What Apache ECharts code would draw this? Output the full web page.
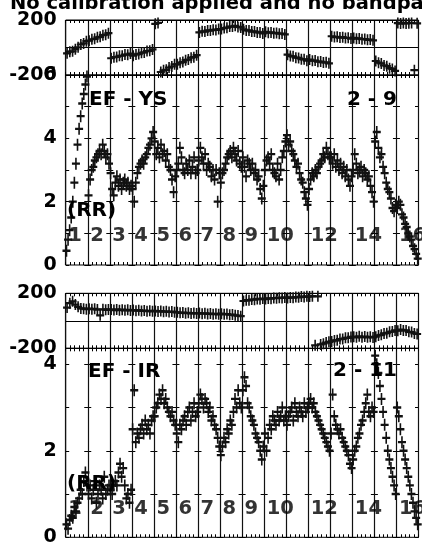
<!DOCTYPE html>
<html><head><meta charset="utf-8">
<script src="https://cdn.jsdelivr.net/npm/echarts@6/dist/echarts.min.js"></script>
<style>html,body{margin:0;padding:0;background:#fff}#c{width:422px;height:552px}</style>
</head><body><div id="c"></div>
<script>
// ---------- text ----------
const TITLE = 'No calibration applied and no bandpass';
const PANEL1_BASELINE = 'EF - YS';
const PANEL1_ANTENNAS = '2 - 9';
const PANEL2_BASELINE = 'EF - IR';
const PANEL2_ANTENNAS = '2 - 11';
const STOKES = '(RR)';
const IF_LABELS = ['1','2','3','4','5','6','7','8','9','10','','12','','14','','16'];
const PHASE_TICK_LABELS = [-200, 200];
const AMP1_TICK_LABELS = [0, 2, 4, 6];
const AMP2_TICK_LABELS = [0, 2, 4];

// ---------- data: one list per IF (channels in order) ----------
const PHASE_YS = [
  [-42,-30,-28,-12,2,22,30,46],
  [50,60,63,74,78,90,93,104],
  [-78,-70,-69,-60,-60,-51,-52,-44],
  [-60,-50,-48,-38,-36,-26,-24,-14],
  [172,179,-178,-166,-162,-146,-138,-122],
  [-122,-110,-106,-92,-88,-74,-70,-56],
  [110,118,116,124,123,129,128,134],
  [134,142,144,152,152,158,150,146],
  [132,124,124,116,117,110,110,102],
  [114,108,110,104,106,100,102,95],
  [-52,-62,-64,-74,-76,-85,-86,-96],
  [-88,-96,-95,-103,-102,-109,-108,-115],
  [82,76,78,72,75,69,71,65],
  [70,64,66,60,62,56,58,52],
  [-98,-110,-116,-130,-136,-150,-156,-170],
  [178,174,179,175,177,179,-165,176]
];
const AMP_YS = [
  [0.45,0.8,1.1,1.5,2.0,2.6,3.2,3.8,4.3,4.7,5.1,5.4,5.7,5.95],
  [2.2,2.7,3.0,3.1,3.3,3.4,3.5,3.6,3.5,3.8,3.6,3.4,3.5,3.2],
  [2.9,2.4,2.2,2.6,2.8,2.5,2.7,2.4,2.6,2.7,2.5,2.6,2.4,2.5],
  [2.4,2.0,2.6,2.9,3.1,3.2,3.3,3.2,3.4,3.5,3.7,3.8,4.0,4.2],
  [3.9,3.5,3.7,3.4,3.8,3.5,3.6,3.3,3.5,3.1,3.0,2.7,2.3,2.8],
  [3.0,3.2,3.7,3.4,3.0,2.9,3.2,3.0,3.3,2.9,3.1,3.4,2.9,3.0],
  [3.3,3.7,3.4,3.2,3.5,3.0,3.2,3.1,2.8,3.0,2.7,3.0,2.0,2.9],
  [2.6,2.9,3.0,3.2,3.4,3.5,3.6,3.4,3.7,3.5,3.3,3.6,3.2,3.1],
  [3.4,3.1,2.8,3.3,3.2,3.0,3.2,2.9,3.0,2.7,2.8,2.4,2.1,2.5],
  [3.0,3.3,3.4,3.2,3.5,3.0,2.9,2.8,3.2,2.7,3.0,3.4,3.6,3.9],
  [4.1,3.8,3.9,3.6,3.5,3.3,3.1,3.2,2.9,2.7,2.6,2.3,2.1,1.9],
  [2.4,2.7,2.9,2.8,3.0,2.9,3.1,3.2,3.3,3.5,3.4,3.7,3.5,3.4],
  [3.4,3.2,3.5,3.1,3.3,3.0,3.2,2.9,3.1,2.8,3.0,2.7,2.5,2.8],
  [3.0,3.5,3.2,2.9,3.0,3.1,2.8,3.0,2.9,2.7,2.8,2.5,2.3,2.0],
  [3.9,4.2,3.7,3.4,3.5,3.1,2.9,2.6,2.4,2.3,2.1,1.8,1.7,1.9],
  [1.8,2.0,1.9,1.6,1.5,1.3,1.2,1.0,0.9,0.8,0.6,0.5,0.35,0.2]
];
const PHASE_IR = [
  [96,128,142,118,102,90,88,84],
  [88,84,87,82,40,84,80,83],
  [82,78,83,77,81,76,80,75],
  [78,74,77,72,75,70,73,69],
  [72,68,71,66,69,64,67,63],
  [62,58,60,55,58,54,56,53],
  [56,52,55,50,53,48,51,47],
  [52,48,49,44,45,40,38,34],
  [144,150,149,155,154,159,157,162],
  [158,163,161,166,164,168,166,170],
  [166,170,168,173,171,176,174,178],
  [176,179,-178,178,-172,-166,-158,-153],
  [-150,-143,-142,-133,-132,-124,-124,-117],
  [-116,-120,-113,-119,-115,-120,-116,-121],
  [-116,-106,-102,-92,-90,-80,-78,-70],
  [-72,-64,-70,-70,-80,-82,-92,-96]
];
const AMP_IR = [
  [0.3,0.2,0.4,0.5,0.45,0.7,0.6,0.8,0.9,1.1,1.0,1.3,1.5,1.2],
  [1.0,1.2,0.9,1.1,1.3,0.8,1.0,1.2,1.1,0.9,1.4,1.0,1.1,1.2],
  [1.1,1.0,1.2,1.3,1.2,1.5,1.7,1.4,1.6,1.2,0.9,1.0,0.8,1.1],
  [2.5,3.4,2.2,2.4,2.3,2.5,2.6,2.4,2.7,2.5,2.6,2.4,2.7,2.8],
  [2.8,3.0,3.1,3.3,3.2,3.4,3.1,3.2,3.0,2.9,2.8,2.9,2.7,2.6],
  [2.4,2.2,2.6,2.5,2.7,2.8,2.6,2.9,3.0,2.7,2.9,3.1,2.8,2.9],
  [3.1,3.3,3.2,3.0,3.2,3.1,2.9,3.0,2.7,2.8,2.6,2.5,2.3,2.1],
  [1.9,2.1,2.3,2.2,2.5,2.4,2.7,2.6,2.9,3.2,3.0,3.4,3.1,3.0],
  [3.4,3.7,3.5,3.1,3.0,2.8,2.7,2.6,2.4,2.3,2.2,2.0,1.8,2.1],
  [2.4,2.0,2.3,2.6,2.5,2.8,2.7,2.6,2.9,2.7,2.8,3.0,2.7,2.8],
  [2.6,2.8,2.9,3.0,2.7,3.1,2.9,2.8,3.0,2.9,2.8,3.1,2.9,3.0],
  [3.1,3.2,3.0,3.1,2.9,2.8,2.7,2.6,2.5,2.4,2.3,2.2,2.1,2.0],
  [2.4,3.3,2.8,2.6,2.5,2.4,2.5,2.3,2.2,2.1,2.0,1.9,1.7,1.6],
  [1.8,2.0,2.1,2.3,2.4,2.6,2.7,2.9,3.1,3.3,2.9,2.8,3.0,2.9],
  [4.2,4.0,3.8,3.5,3.2,2.9,2.6,2.3,2.0,1.8,1.6,1.4,1.2,1.0],
  [3.0,2.8,2.5,2.2,2.0,1.8,1.6,1.4,1.2,1.0,0.8,0.6,0.45,0.3]
];

// ---------- build ----------
const N_IF = IF_LABELS.length;
function toPoints(perIF){
  const out = [];
  perIF.forEach((vals, i) => {
    const n = vals.length;
    vals.forEach((v, k) => out.push([i + (k + 0.5) / n, v]));
  });
  return out;
}
const FONT = '"DejaVu Sans", sans-serif';
const PLUS = 'path://M0,4H10V6H0Z M4,0H6V10H4Z';
const L = 65.7, W = 352.8;
const grids = [
  {left:L, top:20,    width:W, height:55},
  {left:L, top:75,    width:W, height:190},
  {left:L, top:293.3, width:W, height:55},
  {left:L, top:348.3, width:W, height:189}
].map(g => Object.assign(g, {show:true, borderColor:'#000', borderWidth:1, backgroundColor:'transparent'}));

const xAxis = [];
grids.forEach((g, gi) => {
  const base = {gridIndex:gi, type:'value', min:0, max:N_IF, interval:1,
    axisLine:{show:false, onZero:false}, axisLabel:{show:false},
    axisTick:{show:true, inside:true, length:3, lineStyle:{color:'#000', width:1}},
    minorTick:{show:true, splitNumber:5, length:3, lineStyle:{color:'#000', width:1}}};
  xAxis.push(Object.assign({}, base, {position:'bottom', splitLine:{show:true, lineStyle:{color:'#111', width:1.2}}}));
  xAxis.push(Object.assign({}, base, {position:'top', splitLine:{show:false}}));
});

const lbl = (allowed, pad) => ({show:true, color:'#000', fontFamily:FONT, fontWeight:'bold', fontSize:19, margin:9,
  padding: pad, showMaxLabel: true, showMinLabel: true,
  formatter: v => allowed.indexOf(Math.round(v*1000)/1000) >= 0 ? String(v) : ''});
const phaseY = gi => ({gridIndex:gi, type:'value', min:-200, max:200, interval:200,
  axisLine:{show:false}, axisTick:{show:false},
  axisLabel: lbl(PHASE_TICK_LABELS, [0,0,0,0]),
  splitLine:{show:true, lineStyle:{color:'#000', width:1}}});
const ampY = (gi, max, ticks) => ({gridIndex:gi, type:'value', min:0, max:max, interval:1,
  axisLine:{show:false}, axisTick:{show:false},
  axisLabel: lbl(ticks, [4,0,0,0]),
  splitLine:{show:true, lineStyle:{color:'#000', width:1, type:[7, W/N_IF - 7], dashOffset:3.5}}});
const yAxis = [phaseY(0), ampY(1, 6, AMP1_TICK_LABELS), phaseY(2), ampY(3, 4.37, AMP2_TICK_LABELS)];

const dataSeries = (xi, yi, pts, size) => ({type:'scatter', xAxisIndex:xi, yAxisIndex:yi, data:pts,
  symbol:PLUS, symbolSize:size, itemStyle:{color:'#111', opacity:1}, z:5, silent:true, clip:true});
const labelSeries = (xi, yi, yv) => ({type:'scatter', xAxisIndex:xi, yAxisIndex:yi, z:2, silent:true,
  data: IF_LABELS.map((t, i) => [i, yv, t]).filter(d => d[2] !== ''),
  symbol:'circle', symbolSize:1, itemStyle:{color:'transparent'},
  label:{show:true, position:'right', distance:2, formatter:p => p.data[2],
    color:'#000', fontFamily:FONT, fontWeight:'bold', fontSize:19.5}});

const txt = (text, pos, cy) => Object.assign({text, padding:0, top: cy - 10,
  textStyle:{color:'#000', fontFamily:FONT, fontWeight:'bold', fontSize:20, lineHeight:20}}, pos);

const option = {
  animation:false,
  backgroundColor:'#fff',
  title:[
    {text:TITLE, left:10, top:-6.5, padding:0, textStyle:{color:'#000', fontFamily:FONT, fontWeight:'bold', fontSize:19.5, lineHeight:20}},
    txt(PANEL1_BASELINE, {left:89}, 100),
    txt(PANEL1_ANTENNAS, {right:25}, 100),
    txt(STOKES, {left:67}, 211),
    txt(PANEL2_BASELINE, {left:88}, 372),
    txt(PANEL2_ANTENNAS, {right:25}, 371),
    txt(STOKES, {left:67}, 484)
  ],
  grid: grids,
  xAxis, yAxis,
  series:[
    labelSeries(2, 1, 0.92),
    labelSeries(6, 3, 0.65),
    dataSeries(0, 0, toPoints(PHASE_YS), [8, 11]),
    dataSeries(2, 1, toPoints(AMP_YS), [8, 12]),
    dataSeries(4, 2, toPoints(PHASE_IR), [8, 11]),
    dataSeries(6, 3, toPoints(AMP_IR), [8, 12])
  ]
};
const chart = echarts.init(document.getElementById('c'), null, {renderer:'canvas'});
chart.setOption(option);
</script></body></html>
